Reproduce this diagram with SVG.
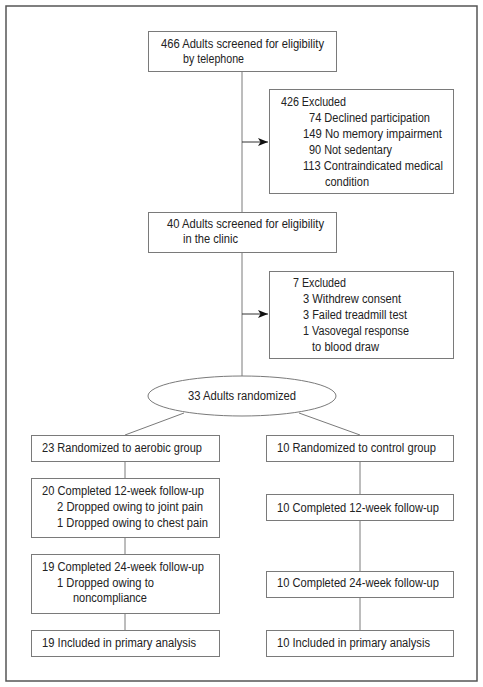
<svg xmlns="http://www.w3.org/2000/svg" width="483" height="687" viewBox="0 0 483 687">
<defs>
<marker id="ah" markerWidth="10" markerHeight="8" refX="10" refY="4" orient="auto" markerUnits="userSpaceOnUse">
<path d="M0,0 L10,4 L0,8 L2.5,4 Z" fill="#111"/>
</marker>
<style>
.box{fill:#fff;stroke:#7a7a7a;stroke-width:1}
.ln{fill:none;stroke:#7a7a7a;stroke-width:1}
.ar{fill:none;stroke:#333;stroke-width:1}
text{font-family:"Liberation Sans Narrow","Liberation Sans",Arial,sans-serif;font-size:12.5px;fill:#222}
</style>
</defs>
<rect width="483" height="687" fill="#fff"/>
<rect x="6" y="6" width="471" height="675" fill="none" stroke="#555" stroke-width="1.5"/>
<g id="connectors">
<line class="ln" x1="242" y1="71" x2="242" y2="212"/>
<line class="ar" x1="242" y1="142" x2="268" y2="142" marker-end="url(#ah)"/>
<line class="ln" x1="242" y1="252" x2="242" y2="376"/>
<line class="ar" x1="242" y1="314" x2="268" y2="314" marker-end="url(#ah)"/>
<line class="ln" x1="184" y1="413" x2="125" y2="435"/>
<line class="ln" x1="299" y1="413" x2="360" y2="435"/>
<line class="ln" x1="125" y1="461" x2="125" y2="478"/>
<line class="ln" x1="125" y1="537" x2="125" y2="554"/>
<line class="ln" x1="125" y1="613" x2="125" y2="630"/>
<line class="ln" x1="360" y1="461" x2="360" y2="494"/>
<line class="ln" x1="360" y1="520" x2="360" y2="571"/>
<line class="ln" x1="360" y1="596" x2="360" y2="630"/>
</g>
<g id="screen-phone">
<rect class="box" x="148.5" y="31.5" width="188" height="40"/>
<text x="161" y="48" textLength="163" lengthAdjust="spacingAndGlyphs">466 Adults screened for eligibility</text>
<text x="183" y="63" textLength="61" lengthAdjust="spacingAndGlyphs">by telephone</text>
</g>
<g id="excluded-1">
<rect class="box" x="269.5" y="89.5" width="184" height="104"/>
<text x="281" y="106" textLength="65" lengthAdjust="spacingAndGlyphs">426 Excluded</text>
<text x="309" y="122" textLength="121" lengthAdjust="spacingAndGlyphs">74 Declined participation</text>
<text x="303" y="138" textLength="139" lengthAdjust="spacingAndGlyphs">149 No memory impairment</text>
<text x="309" y="154" textLength="83" lengthAdjust="spacingAndGlyphs">90 Not sedentary</text>
<text x="303" y="170" textLength="140" lengthAdjust="spacingAndGlyphs">113 Contraindicated medical</text>
<text x="325" y="186" textLength="44" lengthAdjust="spacingAndGlyphs">condition</text>
</g>
<g id="screen-clinic">
<rect class="box" x="148.5" y="212.5" width="188" height="40"/>
<text x="167" y="228" textLength="157" lengthAdjust="spacingAndGlyphs">40 Adults screened for eligibility</text>
<text x="183" y="243" textLength="55" lengthAdjust="spacingAndGlyphs">in the clinic</text>
</g>
<g id="excluded-2">
<rect class="box" x="269.5" y="271.5" width="184" height="87"/>
<text x="293" y="287" textLength="53" lengthAdjust="spacingAndGlyphs">7 Excluded</text>
<text x="303" y="303" textLength="98" lengthAdjust="spacingAndGlyphs">3 Withdrew consent</text>
<text x="303" y="319" textLength="104" lengthAdjust="spacingAndGlyphs">3 Failed treadmill test</text>
<text x="303" y="335" textLength="106" lengthAdjust="spacingAndGlyphs">1 Vasovegal response</text>
<text x="312" y="351" textLength="67" lengthAdjust="spacingAndGlyphs">to blood draw</text>
</g>
<g id="randomized">
<ellipse class="box" cx="242" cy="396" rx="94" ry="20"/>
<text x="188" y="400" textLength="108" lengthAdjust="spacingAndGlyphs">33 Adults randomized</text>
</g>
<g id="aerobic">
<rect class="box" x="31.5" y="435.5" width="188" height="26"/>
<text x="42" y="452" textLength="160" lengthAdjust="spacingAndGlyphs">23 Randomized to aerobic group</text>
</g>
<g id="aerobic-12">
<rect class="box" x="31.5" y="478.5" width="188" height="59"/>
<text x="42" y="495" textLength="162" lengthAdjust="spacingAndGlyphs">20 Completed 12-week follow-up</text>
<text x="57" y="511" textLength="146" lengthAdjust="spacingAndGlyphs">2 Dropped owing to joint pain</text>
<text x="57" y="527" textLength="151" lengthAdjust="spacingAndGlyphs">1 Dropped owing to chest pain</text>
</g>
<g id="aerobic-24">
<rect class="box" x="31.5" y="554.5" width="188" height="59"/>
<text x="42" y="571" textLength="162" lengthAdjust="spacingAndGlyphs">19 Completed 24-week follow-up</text>
<text x="57" y="587" textLength="97" lengthAdjust="spacingAndGlyphs">1 Dropped owing to</text>
<text x="73" y="602" textLength="74" lengthAdjust="spacingAndGlyphs">noncompliance</text>
</g>
<g id="aerobic-final">
<rect class="box" x="31.5" y="630.5" width="188" height="26"/>
<text x="42" y="647" textLength="154" lengthAdjust="spacingAndGlyphs">19 Included in primary analysis</text>
</g>
<g id="control">
<rect class="box" x="266.5" y="435.5" width="187" height="26"/>
<text x="277" y="452" textLength="159" lengthAdjust="spacingAndGlyphs">10 Randomized to control group</text>
</g>
<g id="control-12">
<rect class="box" x="266.5" y="494.5" width="187" height="26"/>
<text x="277" y="512" textLength="162" lengthAdjust="spacingAndGlyphs">10 Completed 12-week follow-up</text>
</g>
<g id="control-24">
<rect class="box" x="266.5" y="571.5" width="187" height="26"/>
<text x="277" y="587" textLength="162" lengthAdjust="spacingAndGlyphs">10 Completed 24-week follow-up</text>
</g>
<g id="control-final">
<rect class="box" x="266.5" y="630.5" width="187" height="26"/>
<text x="277" y="647" textLength="153" lengthAdjust="spacingAndGlyphs">10 Included in primary analysis</text>
</g>
</svg>
